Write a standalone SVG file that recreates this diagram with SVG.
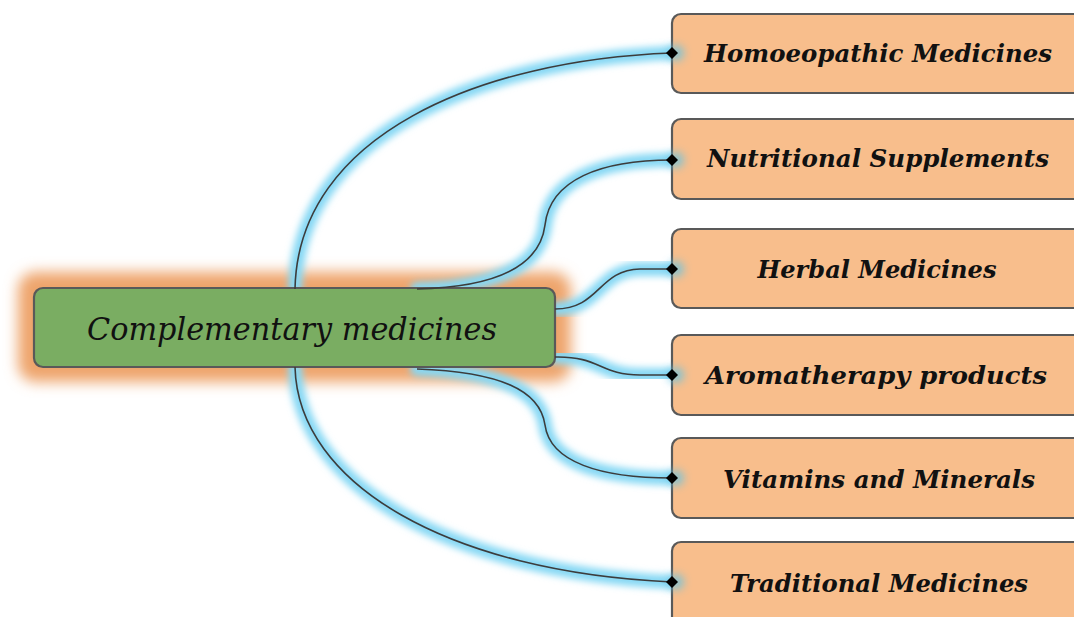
<svg xmlns="http://www.w3.org/2000/svg" width="1074" height="617" viewBox="0 0 1074 617">
  <defs>
    <filter id="orangeGlow" x="-20%" y="-60%" width="140%" height="220%">
      <feGaussianBlur stdDeviation="7"/>
    </filter>
    <filter id="blueGlow" x="-20%" y="-20%" width="140%" height="140%">
      <feGaussianBlur stdDeviation="3.5"/>
    </filter>
    <filter id="dotGlow" x="-100%" y="-100%" width="300%" height="300%">
      <feGaussianBlur stdDeviation="4"/>
    </filter>
  </defs>
  <style>
    .glow { fill: none; stroke: #86d8f4; stroke-width: 14; stroke-linecap: round; filter: url(#blueGlow); }
    .wire { fill: none; stroke: #3c3c3c; stroke-width: 1.6; }
    .tip { fill: #000; }
    .leaf rect { fill: #f8be8c; stroke: #595959; stroke-width: 2.2; }
    .leaf text { font-family: "DejaVu Serif", "Liberation Serif", serif; font-style: italic; font-weight: bold; font-size: 24px; fill: #111; text-anchor: middle; }
    .hub text { font-family: "DejaVu Serif", "Liberation Serif", serif; font-style: italic; font-size: 31px; fill: #111; text-anchor: middle; }
  </style>
  <rect width="1074" height="617" fill="#fff"/>

  <!-- orange glow behind hub -->
  <rect x="18" y="272" width="553" height="110" rx="18" fill="#eea46c" filter="url(#orangeGlow)"/>

  <g id="connectors">
    <g id="glows">
      <path class="glow" d="M295,289 C298,135 480,60 672,53"/>
      <path class="glow" d="M417,289 C500,287 540,265 545,225 C550,180 600,160 672,160"/>
      <path class="glow" d="M555,309 C600,309 598,270 640,269 L672,269"/>
      <path class="glow" d="M555,357 C600,356 600,375 640,375 L672,375"/>
      <path class="glow" d="M417,369 C500,372 540,390 545,425 C550,462 600,478 672,478"/>
      <path class="glow" d="M295,367 C298,485 450,572 672,582"/>
    </g>
  </g>

  <g id="hub" class="hub">
    <rect x="34" y="288" width="521" height="79" rx="9" fill="#7aad62" stroke="#595959" stroke-width="2.2"/>
    <text x="292" y="340" textLength="410" lengthAdjust="spacingAndGlyphs">Complementary medicines</text>
  </g>

  <g id="leaf1" class="leaf">
    <rect x="672" y="14" width="430" height="79" rx="9"/>
    <text x="878" y="62" textLength="348" lengthAdjust="spacingAndGlyphs">Homoeopathic Medicines</text>
  </g>
  <g id="leaf2" class="leaf">
    <rect x="672" y="119" width="430" height="80" rx="9"/>
    <text x="878" y="167" textLength="342" lengthAdjust="spacingAndGlyphs">Nutritional Supplements</text>
  </g>
  <g id="leaf3" class="leaf">
    <rect x="672" y="229" width="430" height="79" rx="9"/>
    <text x="877" y="278" textLength="239" lengthAdjust="spacingAndGlyphs">Herbal Medicines</text>
  </g>
  <g id="leaf4" class="leaf">
    <rect x="672" y="335" width="430" height="80" rx="9"/>
    <text x="876" y="384" textLength="342" lengthAdjust="spacingAndGlyphs">Aromatherapy products</text>
  </g>
  <g id="leaf5" class="leaf">
    <rect x="672" y="438" width="430" height="80" rx="9"/>
    <text x="879" y="488" textLength="312" lengthAdjust="spacingAndGlyphs">Vitamins and Minerals</text>
  </g>
  <g id="leaf6" class="leaf">
    <rect x="672" y="542" width="430" height="90" rx="9"/>
    <text x="879" y="592" textLength="298" lengthAdjust="spacingAndGlyphs">Traditional Medicines</text>
  </g>

  <g id="wires">
    <g id="endglows" fill="#5fc3e6" opacity="0.75">
      <circle cx="676" cy="53" r="8" filter="url(#dotGlow)"/>
      <circle cx="676" cy="160" r="8" filter="url(#dotGlow)"/>
      <circle cx="676" cy="269" r="8" filter="url(#dotGlow)"/>
      <circle cx="676" cy="375" r="8" filter="url(#dotGlow)"/>
      <circle cx="676" cy="478" r="8" filter="url(#dotGlow)"/>
      <circle cx="676" cy="582" r="8" filter="url(#dotGlow)"/>
    </g>
    <path class="wire" d="M295,289 C298,135 480,60 672,53"/>
    <path class="wire" d="M417,289 C500,287 540,265 545,225 C550,180 600,160 672,160"/>
    <path class="wire" d="M555,309 C600,309 598,270 640,269 L672,269"/>
    <path class="wire" d="M555,357 C600,356 600,375 640,375 L672,375"/>
    <path class="wire" d="M417,369 C500,372 540,390 545,425 C550,462 600,478 672,478"/>
    <path class="wire" d="M295,367 C298,485 450,572 672,582"/>
    <path class="tip" d="M666,53 L672,47 L678,53 L672,59 Z"/>
    <path class="tip" d="M666,160 L672,154 L678,160 L672,166 Z"/>
    <path class="tip" d="M666,269 L672,263 L678,269 L672,275 Z"/>
    <path class="tip" d="M666,375 L672,369 L678,375 L672,381 Z"/>
    <path class="tip" d="M666,478 L672,472 L678,478 L672,484 Z"/>
    <path class="tip" d="M666,582 L672,576 L678,582 L672,588 Z"/>
  </g>
</svg>
